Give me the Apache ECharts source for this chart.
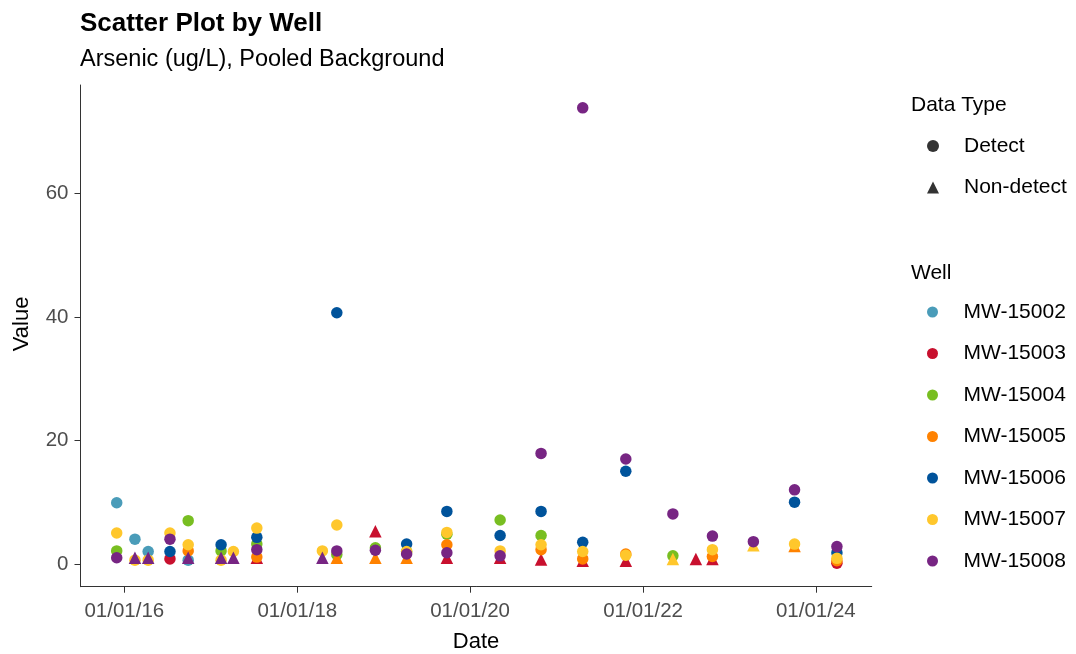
<!DOCTYPE html>
<html>
<head>
<meta charset="utf-8">
<script src="https://cdn.jsdelivr.net/npm/echarts@6/dist/echarts.min.js"></script>
<style>
html,body{margin:0;padding:0;background:#fff;}
#chart{width:1076px;height:654px;}
</style>
</head>
<body>
<div id="chart"></div>
<script>
// ---- data ----
const wellNames = ['MW-15002','MW-15003','MW-15004','MW-15005','MW-15006','MW-15007','MW-15008'];
const dataTypes = ['Detect','Non-detect'];
const yTickValues = [0, 20, 40, 60];
const xTickDates = ['2016-01-01','2018-01-01','2020-01-01','2022-01-01','2024-01-01'];

const mw15002 = [['2015-11-30',9.9,'D'],['2016-02-15',4.0,'D'],['2016-04-11',2.0,'D'],['2016-09-27',0.6,'D']];
const mw15003 = [['2016-07-12',0.8,'D'],['2017-07-14',1.0,'ND'],['2018-11-27',5.3,'ND'],['2019-09-25',1.0,'ND'],
  ['2020-05-07',1.0,'ND'],['2020-10-27',0.7,'ND'],['2021-04-21',0.5,'ND'],['2021-10-20',0.5,'ND'],
  ['2022-08-12',0.8,'ND'],['2022-10-21',0.8,'ND'],['2024-03-30',0.1,'D']];
const mw15004 = [['2015-11-30',2.1,'D'],['2016-09-27',7.0,'D'],['2017-02-13',2.1,'D'],['2017-07-14',3.2,'D'],
  ['2018-06-17',1.5,'D'],['2018-11-27',2.6,'D'],['2019-04-08',2.0,'D'],['2019-09-25',4.8,'D'],
  ['2020-05-07',7.1,'D'],['2020-10-27',4.6,'D'],['2022-05-07',1.3,'D']];
const mw15005 = [['2016-09-27',2.1,'D'],['2017-07-14',1.1,'D'],['2018-06-17',1.0,'ND'],['2018-11-27',1.0,'ND'],
  ['2019-04-08',1.0,'ND'],['2019-09-25',3.1,'D'],['2020-10-27',2.3,'D'],['2021-04-21',0.8,'D'],
  ['2021-10-20',1.6,'D'],['2022-10-21',1.2,'D'],['2023-10-03',2.9,'ND'],['2024-03-30',0.5,'D']];
const mw15006 = [['2016-07-12',2.0,'D'],['2017-02-13',3.1,'D'],['2017-07-14',4.3,'D'],['2018-06-17',40.7,'D'],
  ['2019-04-08',3.2,'D'],['2019-09-25',8.5,'D'],['2020-05-07',4.6,'D'],['2020-10-27',8.5,'D'],
  ['2021-04-21',3.5,'D'],['2021-10-20',15.0,'D'],['2023-10-03',10.0,'D'],['2024-03-30',1.8,'D']];
const mw15007 = [['2015-11-30',5.0,'D'],['2016-02-15',0.6,'D'],['2016-04-11',0.6,'D'],['2016-07-12',5.0,'D'],
  ['2016-09-27',3.1,'D'],['2017-02-13',0.6,'D'],['2017-04-06',2.0,'D'],['2017-07-14',5.8,'D'],
  ['2018-04-17',2.1,'D'],['2018-06-17',6.3,'D'],['2019-04-08',2.0,'D'],['2019-09-25',5.1,'D'],
  ['2020-05-07',2.1,'D'],['2020-10-27',3.1,'D'],['2021-04-21',2.0,'D'],['2021-10-20',1.4,'D'],
  ['2022-05-07',0.8,'ND'],['2022-10-21',2.3,'D'],['2023-04-12',3.0,'ND'],['2023-10-03',3.2,'D'],
  ['2024-03-30',0.9,'D']];
const mw15008 = [['2015-11-30',1.0,'D'],['2016-02-15',1.0,'ND'],['2016-04-11',1.0,'ND'],['2016-07-12',4.0,'D'],
  ['2016-09-27',1.0,'ND'],['2017-02-13',1.0,'ND'],['2017-04-06',1.0,'ND'],['2017-07-14',2.3,'D'],
  ['2018-04-17',1.0,'ND'],['2018-06-17',2.1,'D'],['2018-11-27',2.2,'D'],['2019-04-08',1.6,'D'],
  ['2019-09-25',1.8,'D'],['2020-05-07',1.3,'D'],['2020-10-27',17.9,'D'],['2021-04-21',73.9,'D'],
  ['2021-10-20',17.0,'D'],['2022-05-07',8.1,'D'],['2022-10-21',4.5,'D'],['2023-04-12',3.6,'D'],
  ['2023-10-03',12.0,'D'],['2024-03-30',2.8,'D']];

const wellData = [mw15002, mw15003, mw15004, mw15005, mw15006, mw15007, mw15008];

// ---- styles ----
const wellColors = ['#4A9CB9','#C8102E','#78BE21','#FF8200','#00539B','#FFC72C','#772583'];
const FONT = '"Liberation Sans", Arial, sans-serif';

function parseLocal(s){ const p = s.split('-').map(Number); return Date.UTC(p[0], p[1]-1, p[2]); }
function pad(n){ return (n<10?'0':'')+n; }

const chart = echarts.init(document.getElementById('chart'), null, {renderer:'canvas'});

const series = wellNames.map((name, i) => ({
  name: name,
  type: 'scatter',
  data: wellData[i].map(d => [parseLocal(d[0]), d[1], d[2]]),
  symbol: v => v[2] === 'ND' ? 'triangle' : 'circle',
  symbolSize: v => v[2] === 'ND' ? 12.5 : 11.5,
  itemStyle: { color: wellColors[i], opacity: 1 },
  emphasis: { disabled: true },
  z: 2 + i
}));
series.push({ name: 'Detect', type: 'scatter', data: [], symbol: 'circle', itemStyle: { color: '#000' } });
series.push({ name: 'Non-detect', type: 'scatter', data: [], symbol: 'triangle', itemStyle: { color: '#000' } });

const xTicks = xTickDates.map(parseLocal);
const legendText = { fontFamily: FONT, fontSize: 21, color: '#000', lineHeight: 22, padding: [0, 0, 0, 20] };

const option = {
  animation: false,
  backgroundColor: '#fff',
  textStyle: { fontFamily: FONT },
  title: [
    { text: 'Scatter Plot by Well', left: 80, top: 11, padding: 0,
      textStyle: { fontFamily: FONT, fontSize: 26, fontWeight: 'bold', color: '#000' } },
    { text: 'Arsenic (ug/L), Pooled Background', left: 80, top: 48, padding: 0,
      textStyle: { fontFamily: FONT, fontSize: 23.5, fontWeight: 'normal', color: '#000' } },
    { text: 'Data Type', left: 911, top: 95, padding: 0,
      textStyle: { fontFamily: FONT, fontSize: 21, fontWeight: 'normal', color: '#000' } },
    { text: 'Well', left: 911, top: 263, padding: 0,
      textStyle: { fontFamily: FONT, fontSize: 21, fontWeight: 'normal', color: '#000' } }
  ],
  legend: [
    { data: [{name:'Detect', icon:'circle', itemStyle:{color:'#000'}}, {name:'Non-detect', icon:'triangle', itemStyle:{color:'#000'}}],
      orient: 'vertical', left: 927, top: 135, padding: 0,
      itemWidth: 12, itemHeight: 12, itemGap: 19.5, selectedMode: false,
      textStyle: legendText },
    { data: wellNames, icon: 'circle',
      orient: 'vertical', left: 927, top: 301, padding: 0,
      itemWidth: 12, itemHeight: 11, itemGap: 19.5, selectedMode: false,
      textStyle: legendText }
  ],
  grid: { left: 80.5, right: 204.3, top: 85, bottom: 67.3, containLabel: false, outerBoundsMode: 'none' },
  xAxis: {
    type: 'value',
    min: parseLocal('2015-06-30'),
    max: parseLocal('2024-08-24'),
    name: 'Date', nameLocation: 'middle', nameGap: 44,
    nameTextStyle: { fontFamily: FONT, fontSize: 22, color: '#000' },
    axisLine: { show: true, onZero: false, lineStyle: { color: '#333', width: 1 } },
    axisTick: { show: true, length: 6, lineStyle: { color: '#333' }, customValues: xTicks },
    axisLabel: { show: true, margin: 14, fontFamily: FONT, fontSize: 20.5, color: '#4D4D4D',
      customValues: xTicks,
      formatter: v => { const d = new Date(v); return pad(d.getUTCMonth()+1)+'/'+pad(d.getUTCDate())+'/'+String(d.getUTCFullYear()).slice(2); } },
    splitLine: { show: false }
  },
  yAxis: {
    type: 'value',
    min: -3.7, max: 77.6,
    name: 'Value', nameLocation: 'middle', nameGap: 48, nameRotate: 90,
    nameTextStyle: { fontFamily: FONT, fontSize: 22, color: '#000', padding: [0, 0, 0, 24] },
    axisLine: { show: true, onZero: false, lineStyle: { color: '#333', width: 1 } },
    axisTick: { show: true, length: 6, lineStyle: { color: '#333' }, customValues: yTickValues },
    axisLabel: { show: true, margin: 12, fontFamily: FONT, fontSize: 20.5, color: '#4D4D4D', customValues: yTickValues },
    splitLine: { show: false }
  },
  series: series
};
chart.setOption(option);
</script>
</body>
</html>
